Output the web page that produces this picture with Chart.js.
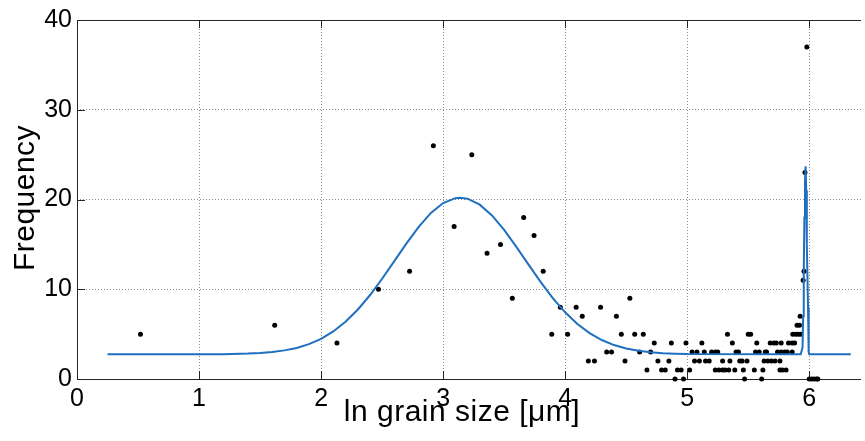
<!DOCTYPE html>
<html>
<head>
<meta charset="utf-8">
<script src="https://cdn.jsdelivr.net/npm/chart.js@4/dist/chart.umd.min.js"></script>
<style>
  html, body { margin: 0; padding: 0; background: #fff; overflow: hidden; }
  #wrap { width: 865px; height: 441px; position: relative; }
</style>
</head>
<body>
<div id="wrap"><canvas id="chart"></canvas></div>
<script>
// measured counts (dots)
const dotX = [
  0.52, 1.62, 2.13, 2.47, 2.725, 2.92, 3.09, 3.235, 3.36, 3.47, 3.567, 3.66, 3.745, 3.82, 3.89,
  3.96, 4.02, 4.09, 4.14, 4.19, 4.24, 4.29, 4.34, 4.38, 4.42, 4.46, 4.49, 4.53, 4.57, 4.61,
  4.64, 4.67, 4.70, 4.73, 4.76, 4.79, 4.82, 4.85, 4.87, 4.90, 4.92, 4.95, 4.97, 4.99, 5.02,
  5.04, 5.06, 5.08, 5.10, 5.12, 5.14, 5.15, 5.18, 5.20, 5.23, 5.25,
  5.23, 5.26, 5.29, 5.31, 5.34, 5.29, 5.33, 5.35, 5.37, 5.39, 5.40, 5.42, 5.43, 5.45, 5.46,
  5.47, 5.49, 5.50, 5.52, 5.55, 5.56, 5.57, 5.59, 5.61, 5.62, 5.63, 5.64, 5.65, 5.66, 5.68,
  5.69, 5.71, 5.72, 5.73, 5.74, 5.76, 5.76, 5.77, 5.77, 5.78, 5.80, 5.81, 5.82, 5.83, 5.86,
  5.86, 5.865, 5.88, 5.89, 5.90, 5.91, 5.92, 5.925, 5.93, 5.95, 5.957, 5.965, 5.98,
  6.00, 6.02, 6.04, 6.06, 6.07
];
const dotY = [
  5, 6, 4, 10, 12, 26, 17, 25, 14, 15, 9, 18, 16, 12, 5,
  8, 5, 8, 7, 2, 2, 8, 3, 3, 7, 5, 2, 9, 5, 3,
  5, 1, 3, 4, 2, 1, 1, 2, 4, 0, 1, 1, 0, 4, 1,
  3, 2, 3, 2, 4, 3, 2, 2, 3, 3, 3,
  1, 1, 2, 1, 1, 1, 5, 2, 4, 1, 3, 3, 2, 2, 1,
  0, 2, 5, 5, 1, 3, 4, 3, 0, 1, 2, 3, 3, 2, 4,
  2, 4, 2, 4, 3, 2, 1, 4, 3, 1, 3, 1, 3, 4, 4,
  3, 5, 4, 5, 6, 5, 6, 7, 5, 11, 12, 23, 37,
  0, 0, 0, 0, 0
];

// fitted curve
const fitX = [
  0.25, 1.2, 1.4, 1.5, 1.6, 1.7, 1.8, 1.9, 2.0, 2.1, 2.2, 2.3, 2.4, 2.5, 2.6, 2.7, 2.8, 2.9,
  3.0, 3.1, 3.14, 3.2, 3.3, 3.4, 3.5, 3.6, 3.7, 3.8, 3.9, 4.0, 4.1, 4.2, 4.3, 4.4, 4.5, 4.6,
  4.7, 4.8, 4.9, 5.0, 5.93, 5.945, 5.95, 5.955, 5.96, 5.965, 5.97, 5.975, 5.98, 5.99, 5.995,
  6.0, 6.34
];
const fitY = [
  2.75, 2.77, 2.83, 2.9, 3.01, 3.19, 3.46, 3.88, 4.48, 5.3, 6.37, 7.72, 9.33, 11.17, 13.13,
  15.11, 16.95, 18.5, 19.6, 20.15, 20.2, 20.09, 19.42, 18.22, 16.61, 14.72, 12.74, 10.79,
  8.99, 7.43, 6.13, 5.11, 4.34, 3.78, 3.4, 3.14, 2.98, 2.88, 2.82, 2.78, 2.75, 3.5, 7, 12,
  18, 22, 23.7, 21, 15, 8, 3, 2.75, 2.75
];

const xTicks = [0, 1, 2, 3, 4, 5, 6];
const yTicks = [0, 10, 20, 30, 40];

const FONT = "'Liberation Sans', Arial, Helvetica, sans-serif";

// matlab style box with inward ticks and the axis titles
const matlabAxes = {
  id: 'matlabAxes',
  beforeDatasetsDraw(chart) {
    const { ctx, chartArea: a, scales: { x, y } } = chart;
    ctx.save();
    ctx.strokeStyle = '#262626';
    ctx.lineWidth = 1;
    ctx.beginPath();
    ctx.moveTo(a.left + 0.5, a.top);
    ctx.lineTo(a.left + 0.5, a.bottom + 1);
    ctx.moveTo(a.left, a.top + 0.5);
    ctx.lineTo(a.right, a.top + 0.5);
    ctx.moveTo(a.left, a.bottom + 0.5);
    ctx.lineTo(a.right, a.bottom + 0.5);
    xTicks.forEach(v => {
      const px = Math.round(x.getPixelForValue(v)) + 0.5;
      ctx.moveTo(px, a.bottom);
      ctx.lineTo(px, a.bottom - 8);
      ctx.moveTo(px, a.top);
      ctx.lineTo(px, a.top + 8);
    });
    yTicks.forEach(v => {
      const py = Math.round(y.getPixelForValue(v)) + 0.5;
      ctx.moveTo(a.left, py);
      ctx.lineTo(a.left + 8, py);
    });
    ctx.stroke();
    ctx.restore();
  },
  afterDraw(chart) {
    const { ctx } = chart;
    ctx.save();
    ctx.fillStyle = '#000';
    ctx.font = '30px ' + FONT;
    ctx.letterSpacing = '0.5px';
    ctx.textAlign = 'center';
    ctx.textBaseline = 'middle';
    ctx.fillText('ln grain size [\u03bcm]', 462, 413);
    ctx.translate(26, 198);
    ctx.rotate(-Math.PI / 2);
    ctx.fillText('Frequency', 0, 0);
    ctx.restore();
  }
};

new Chart(document.getElementById('chart'), {
  type: 'scatter',
  data: {
    datasets: [
      {
        type: 'line',
        label: 'fit',
        data: fitX.map((v, i) => ({ x: v, y: fitY[i] })),
        borderColor: '#1f6fc0',
        borderWidth: 2,
        pointRadius: 0,
        tension: 0,
        fill: false
      },
      {
        label: 'counts',
        data: dotX.map((v, i) => ({ x: v, y: dotY[i] })),
        backgroundColor: '#000',
        borderWidth: 0,
        pointRadius: 2.5,
        clip: false
      }
    ]
  },
  options: {
    responsive: true,
    maintainAspectRatio: false,
    animation: false,
    layout: { padding: { top: 20, left: 0, right: 0, bottom: 0 } },
    plugins: { legend: { display: false }, tooltip: { enabled: false } },
    scales: {
      x: {
        type: 'linear',
        min: 0,
        max: 6.424,
        afterBuildTicks: s => { s.ticks = xTicks.map(v => ({ value: v })); },
        afterFit: s => { s.height = 62; },
        border: { display: false, dash: [1, 2] },
        grid: { color: '#8c8c8c', drawTicks: false, lineWidth: 1 },
        ticks: { color: '#000', font: { family: FONT, size: 25 }, padding: 5, maxRotation: 0 }
      },
      y: {
        type: 'linear',
        min: 0,
        max: 40,
        afterBuildTicks: s => { s.ticks = yTicks.map(v => ({ value: v })); },
        afterFit: s => { s.width = 77; },
        border: { display: false, dash: [1, 2] },
        grid: { color: '#8c8c8c', drawTicks: false, lineWidth: 1 },
        ticks: { color: '#000', font: { family: FONT, size: 25 }, padding: 5 }
      }
    }
  },
  plugins: [matlabAxes]
});
</script>
</body>
</html>
